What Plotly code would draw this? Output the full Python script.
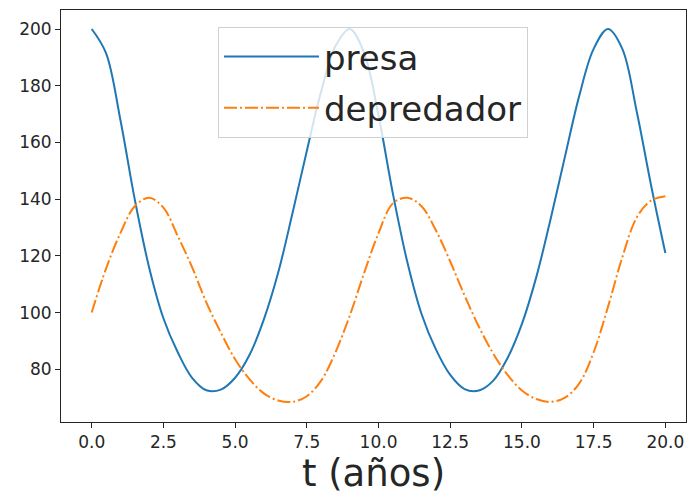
import plotly.graph_objects as go

# time (years)
t = [0.0, 0.5, 1.0, 1.5, 2.0, 2.5, 3.0, 3.5, 4.0, 4.5, 5.0, 5.5, 6.0, 6.5, 7.0, 7.5, 8.0, 8.5, 9.0,
     9.5, 10.0, 10.5, 11.0, 11.5, 12.0, 12.5, 13.0, 13.5, 14.0, 14.5, 15.0, 15.5, 16.0, 16.5, 17.0,
     17.5, 18.0, 18.5, 19.0, 19.5, 20.0]

presa = [200, 191.5, 168, 140, 116, 98, 86, 77, 72.6, 72.8, 77, 85, 97.5, 114, 135, 157, 178, 194, 200,
         191.5, 169.5, 142, 118, 99.5, 87, 78, 73, 72.5, 76, 84, 96, 112.5, 133, 155, 176.5,
         193, 200, 193, 171, 145, 121]

depredador = [100, 115.5, 128, 137.5, 140.5, 137, 127, 116, 103.5, 93, 83.5, 76.5, 71.5, 69, 68.5, 70.5, 76, 86, 99,
              114, 128, 138.5, 140.5, 137.5, 129, 118, 106, 95, 85.5, 78, 72.5, 69.5, 68.5, 70, 75,
              86, 102, 119.5, 133.5, 139.5, 141]

xtick_vals = [0.0, 2.5, 5.0, 7.5, 10.0, 12.5, 15.0, 17.5, 20.0]
xtick_text = ["0.0", "2.5", "5.0", "7.5", "10.0", "12.5", "15.0", "17.5", "20.0"]
ytick_vals = [80, 100, 120, 140, 160, 180, 200]

FONT = "DejaVu Sans"

fig = go.Figure()
fig.add_trace(go.Scatter(x=t, y=presa, mode="lines", name="presa", legendgroup="a",
                         line=dict(color="#1f77b4", width=2, shape="spline", smoothing=1.0)))
fig.add_trace(go.Scatter(x=t, y=depredador, mode="lines", name="depredador", legendgroup="b",
                         line=dict(color="#ff7f0e", width=2, shape="spline", smoothing=1.0,
                                   dash="13px,3px,2px,3px")))

axis_common = dict(showline=True, linecolor="#262626", linewidth=1, mirror=True,
                   showgrid=False, zeroline=False, ticks="outside", ticklen=5,
                   tickcolor="#262626", tickwidth=1,
                   tickfont=dict(family=FONT, size=17, color="#262626"))

fig.update_layout(
    width=690, height=498,
    margin=dict(l=61, r=4, t=10, b=76),
    paper_bgcolor="white", plot_bgcolor="white",
    font=dict(family=FONT, color="#262626"),
    xaxis=dict(range=[-1.07, 20.72], tickvals=xtick_vals, ticktext=xtick_text,
               title=dict(text="t (años)", font=dict(family=FONT, size=37, color="#262626"),
                          standoff=6),
               **axis_common),
    yaxis=dict(range=[61.4, 206.7], tickvals=ytick_vals, **axis_common),
    legend=dict(x=0.2512, y=0.9587, xanchor="left", yanchor="top",
                bgcolor="rgba(255,255,255,0.8)", bordercolor="#d0d0d0", borderwidth=1,
                font=dict(family=FONT, size=34, color="#262626"),
                itemwidth=95, traceorder="grouped", tracegroupgap=4),
    showlegend=True,
)

fig.write_html("out.html")
